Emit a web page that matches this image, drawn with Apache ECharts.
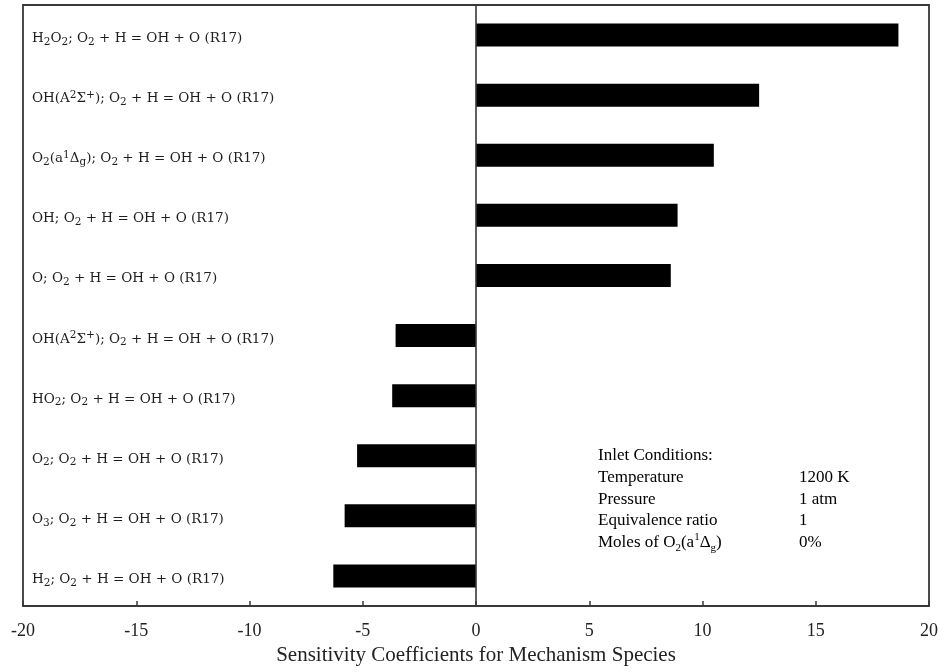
<!DOCTYPE html>
<html>
<head>
<meta charset="utf-8">
<script src="https://cdn.jsdelivr.net/npm/echarts@6/dist/echarts.min.js"></script>
<style>
  html, body { margin: 0; padding: 0; background: #fff; }
  #chart { width: 943px; height: 672px; }
</style>
</head>
<body>
<div id="chart"></div>
<script>
// Reaction labels, top to bottom; _{..} marks a subscript, ^{..} a superscript
const categories = [
  'H_{2}O_{2}; O_{2} + H = OH + O (R17)',
  'OH(A^{2}Σ^{+}); O_{2} + H = OH + O (R17)',
  'O_{2}(a^{1}Δ_{g}); O_{2} + H = OH + O (R17)',
  'OH; O_{2} + H = OH + O (R17)',
  'O; O_{2} + H = OH + O (R17)',
  'OH(A^{2}Σ^{+}); O_{2} + H = OH + O (R17)',
  'HO_{2}; O_{2} + H = OH + O (R17)',
  'O_{2}; O_{2} + H = OH + O (R17)',
  'O_{3}; O_{2} + H = OH + O (R17)',
  'H_{2}; O_{2} + H = OH + O (R17)'
];

// Sensitivity coefficient of each species
const coefficients = [18.65, 12.5, 10.5, 8.9, 8.6, -3.55, -3.7, -5.25, -5.8, -6.3];

// X axis range and tick step
const xMin = -20;
const xMax = 20;
const xStep = 5;

const axisTitle = 'Sensitivity Coefficients for Mechanism Species';

// Inlet condition table
const tableHeading = 'Inlet Conditions:';
const conditionNames = ['Temperature', 'Pressure', 'Equivalence ratio', 'Moles of O_{2}(a^{1}Δ_{g})'];
const conditionValues = ['1200 K', '1 atm', '1', '0%'];

// Turn the _{..}/^{..} markup into ECharts rich text
function toRich(s, base, sub, sup) {
  let out = '';
  let last = 0;
  const re = /([_^])\{([^}]*)\}/g;
  let m;
  while ((m = re.exec(s)) !== null) {
    if (m.index > last) out += '{' + base + '|' + s.slice(last, m.index) + '}';
    out += '{' + (m[1] === '_' ? sub : sup) + '|' + m[2] + '}';
    last = re.lastIndex;
  }
  if (last < s.length) out += '{' + base + '|' + s.slice(last) + '}';
  return out;
}

const labelFont = 'DejaVu Serif';
const labelColor = '#1e1e1e';
const labelRich = {
  n:   { fontFamily: labelFont, fontSize: 13.5, color: labelColor, lineHeight: 18, verticalAlign: 'middle' },
  sub: { fontFamily: labelFont, fontSize: 10.5, color: labelColor, lineHeight: 11, verticalAlign: 'bottom' },
  sup: { fontFamily: labelFont, fontSize: 10.5, color: labelColor, lineHeight: 11, verticalAlign: 'top' }
};

const tableFont = 'Liberation Serif';
const tableColor = '#1e1e1e';
const tableRich = {
  n:   { fontFamily: tableFont, fontSize: 17, color: tableColor, lineHeight: 22, verticalAlign: 'middle' },
  sub: { fontFamily: tableFont, fontSize: 11, color: tableColor, lineHeight: 11, verticalAlign: 'bottom' },
  sup: { fontFamily: tableFont, fontSize: 11, color: tableColor, lineHeight: 11, verticalAlign: 'top' }
};

const tableX = 598;
const valueX = 799;
const tableTop = 456;
const rowGap = 21.6;

function tableText(x, y, s) {
  return {
    type: 'text',
    x: x,
    y: y,
    style: {
      text: toRich(s, 'n', 'sub', 'sup'),
      rich: tableRich,
      align: 'left',
      verticalAlign: 'middle'
    }
  };
}

const graphics = [tableText(tableX, tableTop, tableHeading)];
conditionNames.forEach(function (name, i) {
  const y = tableTop + rowGap * (i + 1);
  graphics.push(tableText(tableX, y, name));
  graphics.push(tableText(valueX, y, conditionValues[i]));
});

const chart = echarts.init(document.getElementById('chart'), null, { renderer: 'canvas' });

chart.setOption({
  animation: false,
  backgroundColor: '#fff',
  grid: {
    left: 23, right: 14, top: 5, bottom: 66,
    show: true, borderColor: '#383838', borderWidth: 1.8,
    containLabel: false
  },
  xAxis: {
    type: 'value',
    min: xMin, max: xMax, interval: xStep,
    splitLine: { show: false },
    axisLine: { show: true, onZero: false, lineStyle: { color: '#383838', width: 1.8 } },
    axisTick: { show: true, inside: true, length: 5, lineStyle: { color: '#383838', width: 1.5 } },
    axisLabel: { margin: 16, fontFamily: 'Liberation Serif', fontSize: 18, color: '#222' },
    name: axisTitle,
    nameLocation: 'middle',
    nameGap: 34,
    nameTextStyle: { fontFamily: 'Liberation Serif', fontSize: 21, color: '#222' }
  },
  yAxis: {
    type: 'category',
    inverse: true,
    data: categories,
    axisLine: { show: false, onZero: false },
    axisTick: { show: false },
    splitLine: { show: false },
    axisLabel: {
      inside: true,
      margin: 9,
      padding: [7, 0, 0, 0],
      formatter: function (value, index) { return toRich(categories[index], 'n', 'sub', 'sup'); },
      rich: labelRich
    }
  },
  graphic: graphics,
  series: [{
    type: 'bar',
    data: coefficients,
    barWidth: 23,
    itemStyle: { color: '#000' },
    markLine: {
      silent: true,
      symbol: 'none',
      label: { show: false },
      lineStyle: { color: '#383838', width: 1.6, type: 'solid' },
      data: [{ xAxis: 0 }]
    }
  }]
});
</script>
</body>
</html>
